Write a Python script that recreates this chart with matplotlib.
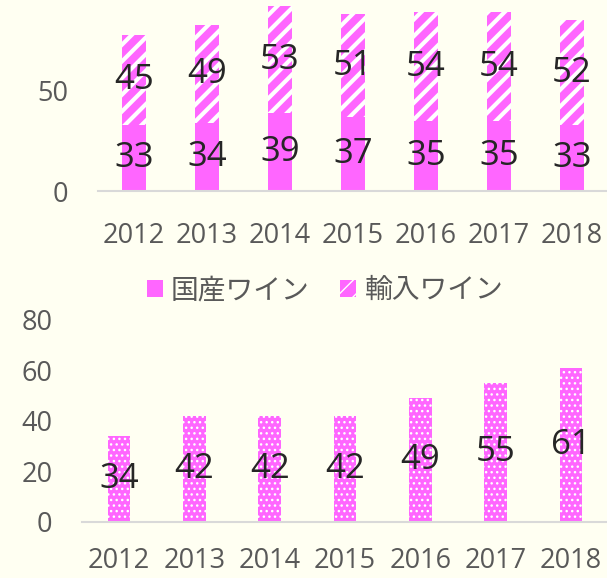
import matplotlib
matplotlib.use("Agg")
import matplotlib.pyplot as plt
from matplotlib.patches import Patch

plt.rcParams['font.family'] = ['Open Sans', 'Noto Sans CJK JP', 'DejaVu Sans']

years = ['2012', '2013', '2014', '2015', '2016', '2017', '2018']
domestic = [33, 34, 39, 37, 35, 35, 33]
imported = [45, 49, 53, 51, 54, 54, 52]
bottom_vals = [34, 42, 42, 42, 49, 55, 61]
legend_labels = ['国産ワイン', '輸入ワイン']

BG = '#FFFFF2'
MAG = '#FF66FF'
TICK = '#595959'
LAB = '#262626'
AX = '#D9D9D9'

W, H = 607, 578
fig = plt.figure(figsize=(W / 100, H / 100), dpi=100, facecolor=BG)

def frac(left, top, right, bottom):
    return [left / W, 1 - bottom / H, (right - left) / W, (bottom - top) / H]

def style(ax, xpad):
    ax.set_facecolor(BG)
    for s in ['top', 'right', 'left']:
        ax.spines[s].set_visible(False)
    ax.spines['bottom'].set_color(AX)
    ax.spines['bottom'].set_linewidth(1.5)
    ax.tick_params(length=0, labelsize=19.5, colors=TICK)
    ax.tick_params(axis='y', pad=21)
    ax.tick_params(axis='x', pad=xpad)

def set_hlw(patches, lw):
    for p in patches:
        if hasattr(p, 'set_hatch_linewidth'):
            p.set_hatch_linewidth(lw)

# ---- top chart ----
ax1 = fig.add_axes(frac(97.5, 0, 608.5, 191))
ax1.set_xlim(-0.5, 6.5)
ax1.set_ylim(0, 191 / 2.006)
x = list(range(len(years)))
with plt.rc_context({'hatch.linewidth': 3.0}):
    b1 = ax1.bar(x, domestic, width=0.32, color=MAG, linewidth=0)
    b2 = ax1.bar(x, imported, bottom=domestic, width=0.32, color=MAG,
                 edgecolor='white', hatch='//', linewidth=0)
set_hlw(b2, 3.0)
ax1.set_xticks(x, years)
ax1.set_yticks([0, 50])
style(ax1, 22.5)
ax1.bar_label(b1, label_type='center', fontsize=25, color=LAB)
ax1.bar_label(b2, label_type='center', fontsize=25, color=LAB)

with plt.rc_context({'hatch.linewidth': 3.0}):
    handles = [Patch(facecolor=MAG, linewidth=0),
               Patch(facecolor=MAG, edgecolor='white', hatch='//', linewidth=0)]
set_hlw(handles[1:], 3.0)
fig.legend(handles, legend_labels, loc='center', ncol=2,
           bbox_to_anchor=(325 / W, 1 - 290 / H), frameon=False,
           prop={'family': ['Noto Sans CJK JP', 'DejaVu Sans'], 'size': 20},
           labelcolor=TICK, handlelength=0.58, handleheight=0.58,
           handletextpad=0.3, columnspacing=1.1, borderaxespad=0, borderpad=0)

# ---- bottom chart ----
ax2 = fig.add_axes(frac(81.5, 320, 608.5, 521.7))
ax2.set_xlim(-0.5, 6.5)
ax2.set_ylim(0, 80)
with plt.rc_context({'hatch.linewidth': 1.0}):
    b3 = ax2.bar(x, bottom_vals, width=0.30, color=MAG, edgecolor='white',
                 hatch='...', linewidth=0)
set_hlw(b3, 1.0)
ax2.set_xticks(x, years)
ax2.set_yticks([0, 20, 40, 60, 80])
style(ax2, 18.5)
ax2.bar_label(b3, label_type='center', fontsize=25, color=LAB)

fig.savefig('out.png', dpi=100, facecolor=BG)
